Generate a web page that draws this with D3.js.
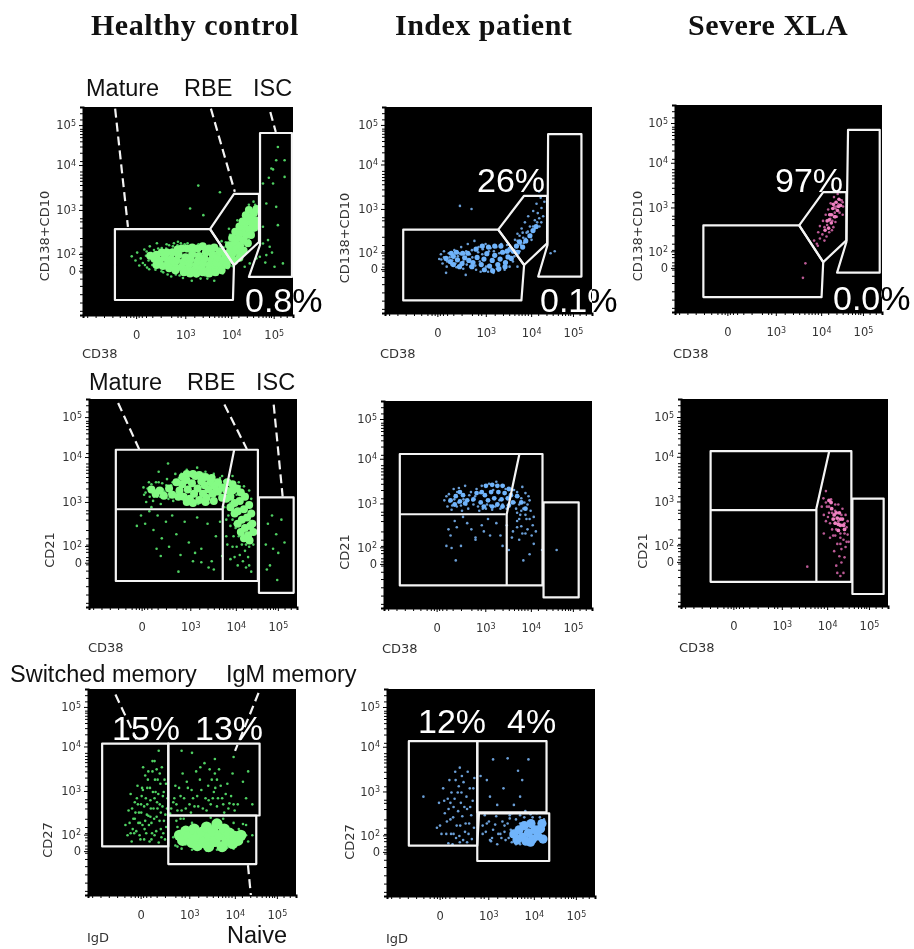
<!DOCTYPE html>
<html lang="en">
<head>
<meta charset="UTF-8">
<title>B cell subsets</title>
<script src="https://d3js.org/d3.v7.min.js"></script>
<style>
  * { margin: 0; padding: 0; }
  body { background: #fff; }
  svg { display: block; filter: blur(0.55px); }
  .tick text { font-family: "DejaVu Sans", sans-serif; font-size: 11.5px; fill: #333; }
  .title { font-family: "Liberation Serif", serif; font-weight: bold; font-size: 30px; letter-spacing: 0.5px; fill: #111; }
  .lab { font-family: "Liberation Sans", sans-serif; font-size: 23.5px; fill: #111; }
  .axt { font-family: "DejaVu Sans", sans-serif; font-size: 13px; fill: #333; }
  .pct { font-family: "Liberation Sans", sans-serif; font-size: 34px; fill: #fff; }
  .over { mix-blend-mode: difference; }
</style>
</head>
<body>
<div id="chart"></div>
<script>
// all values are in display channels (0-1000) of the biexponential axes
const xTickChannels = [253, 487, 706, 908];
const yTickChannels = [213, 293, 505, 721, 913];
const xTickLabels = ["0", "3", "4", "5"];
const yTickLabels = ["0", "2", "3", "4", "5"];
const minorChannels = [20,60,100,140,175,205,225,240,265,280,300,330,370,420,450,465,530,570,600,625,645,660,675,690,740,780,810,835,855,870,885,895,940,970];

// healthy control, CD38 vs CD138+CD10
const coreA = [[340,270],[365,262],[390,275],[405,250],[420,268],[435,240],[445,262],[455,290],[470,232],[478,255],[488,278],[500,222],[505,245],[512,268],[520,292],[530,215],[538,238],[546,258],[552,284],[565,225],[572,248],[578,272],[585,300],[598,218],[604,240],[610,262],[618,290],[630,228],[636,252],[642,275],[650,305],[662,240],[668,262],[676,290],[690,268],[696,300],[706,330],[716,300],[724,345],[732,315],[740,370],[748,335],[756,395],[764,360],[772,420],[778,385],[786,450],[792,410],[800,470],[806,435],[814,490],[820,455],[826,510],[710,270],[750,300]];
const coreA2 = [[400,300],[425,300],[450,315],[470,320],[495,320],[520,325],[545,320],[570,330],[600,320],[625,325],[480,205],[510,200],[540,200],[570,205],[600,200],[630,205],[660,215],[685,240],[720,260],[745,275],[765,310],[785,345],[800,385],[815,420],[825,440],[695,335],[710,370],[725,400],[745,425],[760,450],[775,480],[790,505],[375,300],[350,290],[320,285],[350,240],[380,235],[410,225],[440,215]];
const dotsA = [[232,282],[250,262],[258,300],[268,238],[275,272],[285,250],[292,315],[300,285],[305,228],[312,262],[318,330],[325,298],[330,240],[338,312],[345,218],[352,345],[360,295],[368,232],[375,322],[382,205],[390,305],[398,340],[405,218],[412,295],[420,185],[428,330],[436,205],[444,312],[452,352],[460,190],[468,325],[476,178],[484,340],[492,308],[500,190],[510,330],[518,165],[528,325],[540,185],[550,340],[560,175],[570,325],[582,190],[592,175],[605,332],[615,200],[625,165],[640,195],[655,330],[665,200],[680,350],[690,225],[700,385],[712,235],[720,400],[735,275],[745,430],[760,300],[770,480],[780,340],[790,530],[800,380],[812,545],[660,355],[695,415],[735,455],[549,622],[652,590],[510,512],[573,480],[928,808],[920,744],[897,704],[960,744],[857,632],[905,632],[960,664],[873,536],[920,520],[857,424],[928,432],[881,360],[857,344],[889,328],[842,280],[873,288],[952,248],[912,232],[794,248],[826,272],[770,232],[900,300],[868,252],[905,700],[885,660]];
const extraA = [[295,240],[303,305],[315,220],[322,280],[335,262],[342,295],[350,240],[358,320],[366,270],[374,210],[380,290],[388,235],[396,320],[403,195],[410,335],[418,225],[425,315],[433,345],[442,195],[450,335],[458,215],[466,345],[474,205],[482,325],[490,195],[498,345],[506,205],[516,315],[524,195],[534,320],[544,200],[556,320],[568,200],[576,335],[590,205],[600,325],[610,190],[622,320],[634,205],[646,320],[658,215],[670,325],[682,240],[694,330],[704,255],[716,360],[726,265],[738,395],[750,270],[758,430],[772,320],[780,470],[790,360],[798,510],[812,400],[820,530],[830,460],[826,410]];

// index patient, CD38 vs CD138+CD10
const coreB = [[295,265],[315,250],[330,275],[350,258],[372,240],[385,268],[405,255],[425,245],[445,270],[465,235],[478,262],[492,288],[505,228],[518,255],[530,280],[545,235],[556,262],[568,295],[582,245],[594,272],[604,310],[620,300],[635,325],[650,345]];
const coreB2 = [[440,310],[470,325],[500,320],[530,325],[560,325],[590,300],[480,210],[520,205],[550,215],[580,225],[610,265],[640,295],[665,320],[680,350],[700,375],[715,400],[730,420],[320,290],[345,295],[375,290],[400,290],[330,235],[360,225],[420,225]];
const dotsB = [[262,262],[270,285],[278,240],[285,300],[298,225],[308,290],[320,235],[335,305],[345,222],[358,290],[368,320],[378,215],[392,300],[400,335],[412,225],[420,305],[432,350],[440,210],[452,320],[462,200],[472,310],[486,335],[498,200],[510,315],[524,195],[538,320],[548,205],[562,335],[578,210],[590,330],[602,225],[618,250],[628,355],[640,385],[650,300],[660,410],[668,365],[676,440],[684,390],[692,470],[700,420],[708,355],[716,495],[724,450],[732,530],[738,485],[746,420],[752,560],[756,510],[764,470],[770,540],[744,590],[362,520],[418,505],[640,225],[295,195],[390,185],[820,300],[800,290]];
const extraB = [[272,260],[285,270],[300,250],[312,270],[325,255],[340,240],[352,275],[365,285],[378,250],[395,235],[410,285],[422,270],[436,230],[450,295],[458,250],[470,285],[488,225],[502,300],[515,215],[526,300],[540,215],[552,290],[575,225],[588,300],[610,270],[625,275],[640,300],[655,330],[670,340],[680,360],[690,395],[705,380],[715,420],[725,410],[735,440],[745,460],[755,440],[650,375],[665,390],[640,350]];

// severe XLA, CD38 vs CD138+CD10
const coreC = [[735,440],[748,470],[755,430],[762,500],[770,460],[778,530],[785,490],[792,545],[800,515],[742,405],[725,395],[755,470],[765,520],[790,510],[745,445],[775,460]];
const dotsC = [[672,345],[685,330],[692,385],[700,355],[700,415],[712,375],[715,440],[722,345],[728,470],[732,365],[740,495],[745,385],[752,525],[758,395],[765,410],[768,555],[775,435],[782,460],[786,570],[795,480],[800,580],[805,540],[812,510],[810,470],[770,510],[690,320],[630,235],[618,165]];
const extraC = [[722,410],[735,420],[750,450],[760,470],[772,480],[780,510],[790,520],[800,540],[810,530],[745,470],[760,440],[775,500]];

// healthy control, CD38 vs CD21
const coreD = [[435,560],[448,590],[455,530],[468,610],[475,565],[485,520],[495,595],[505,545],[512,630],[522,570],[530,515],[540,605],[548,545],[556,585],[565,525],[575,565],[585,600],[595,545],[605,580],[620,555],[640,575],[660,560],[680,530],[700,500],[690,560],[715,460],[725,510],[735,420],[745,470],[750,380],[760,430],[765,345],[775,390],[772,320]];
const coreD2 = [[420,600],[430,530],[450,625],[470,640],[500,640],[530,635],[560,625],[590,620],[620,600],[470,505],[500,500],[560,505],[600,510],[640,525],[665,600],[690,590],[710,570],[730,550],[750,530],[770,490],[780,450],[785,400],[790,360],[700,450],[715,400],[730,360],[745,330],[680,480],[660,520],[340,560],[320,545],[300,565],[360,535],[385,570],[400,540]];
const dotsD = [[265,540],[275,505],[282,570],[292,530],[300,590],[308,510],[318,560],[328,530],[335,600],[345,495],[355,565],[365,525],[375,615],[385,545],[395,585],[405,510],[415,640],[425,600],[470,660],[520,670],[560,650],[600,640],[640,630],[670,610],[690,630],[720,600],[745,580],[770,560],[780,520],[650,480],[670,440],[690,420],[705,380],[720,340],[735,300],[750,270],[765,240],[790,300],[785,460],[660,340],[690,290],[680,230],[640,245],[715,200],[755,190],[780,170],[230,390],[250,440],[270,400],[290,460],[310,370],[330,440],[350,330],[370,410],[385,290],[400,440],[420,350],[440,250],[460,410],[480,310],[500,220],[520,430],[540,280],[570,400],[590,220],[610,340],[345,245],[325,280],[430,170],[510,260],[540,215],[575,190],[630,410],[600,180],[860,400],[880,440],[900,350],[925,420],[850,300],[885,280],[910,260],[940,310],[870,200],[905,130],[855,180],[335,650],[380,690],[300,480]];
const extraD = [[262,575],[272,550],[288,600],[298,555],[312,530],[322,600],[332,570],[342,530],[352,595],[362,555],[372,585],[382,520],[392,565],[402,600],[412,545],[422,520],[432,620],[445,640],[460,500],[480,640],[500,650],[525,495],[550,640],[575,500],[600,625],[630,620],[650,605],[665,590],[675,570],[700,580],[710,540],[720,560],[690,470],[705,440],[715,520],[730,470],[700,400],[720,400],[740,380],[745,330],[730,350],[755,300],[770,290],[780,350],[760,480],[750,520],[740,550],[725,580],[680,500],[670,470],[655,510],[660,420],[680,390],[695,340],[665,300],[710,290],[700,240],[725,250],[740,220],[770,200]];

// index patient, CD38 vs CD21
const coreE = [[345,540],[365,515],[380,545],[400,520],[465,510],[485,545],[500,520],[515,560],[530,530],[545,500],[550,560],[565,525],[580,555],[595,530],[610,545],[620,510]];
const coreE2 = [[470,560],[490,590],[520,595],[545,590],[570,590],[600,575],[480,490],[520,490],[570,490],[600,495],[640,540],[660,510],[680,480],[430,525],[445,555],[320,520],[340,500],[365,560],[390,505]];
const dotsE = [[290,520],[305,490],[312,550],[325,475],[335,575],[350,490],[360,580],[375,470],[390,590],[405,480],[418,560],[430,500],[445,575],[458,470],[470,590],[490,480],[505,600],[520,475],[540,610],[560,480],[575,590],[590,480],[605,500],[625,570],[635,480],[645,540],[655,450],[665,585],[675,510],[685,430],[695,540],[705,470],[715,400],[660,395],[640,420],[615,340],[650,330],[680,360],[720,310],[600,280],[570,300],[540,410],[510,350],[470,400],[440,330],[400,410],[370,300],[340,420],[310,380],[300,300],[325,290],[345,230],[440,340],[700,260],[670,230],[760,280],[830,280]];
const extraE = [[300,540],[315,515],[328,495],[338,525],[352,560],[358,510],[370,495],[382,525],[395,500],[410,545],[425,520],[438,540],[452,490],[462,555],[475,480],[495,500],[510,495],[525,570],[535,490],[555,520],[570,500],[585,575],[600,500],[615,570],[628,510],[640,560],[650,500],[660,530],[670,480],[680,555],[690,500],[700,520],[650,430],[680,450],[700,430],[720,440],[660,470],[640,460],[690,380],[665,360],[640,390],[620,370],[710,350],[730,370],[380,440],[420,380],[350,390],[320,350],[480,370],[500,430],[560,350],[590,400]];

// severe XLA, CD38 vs CD21
const coreF = [[715,510],[728,470],[740,440],[755,425],[765,450],[745,400],[770,390],[780,420],[760,365],[790,370],[725,500],[735,420],[750,450],[770,420],[785,390],[760,395]];
const dotsF = [[700,555],[688,520],[705,480],[680,480],[690,440],[715,450],[700,410],[725,515],[745,490],[760,490],[780,470],[795,440],[805,410],[730,370],[745,340],[770,330],[785,320],[805,345],[720,330],[690,350],[755,300],[775,275],[795,285],[740,265],[765,240],[790,235],[750,195],[775,210],[755,160],[785,160],[770,145],[800,380],[810,310],[610,190]];
const extraF = [[700,500],[715,480],[730,450],[745,460],[760,410],[775,440],[790,400],[720,400],[740,420],[710,430],[790,350],[770,350],[750,370],[735,340],[770,300],[800,310]];

// healthy control, IgD vs CD27
const coreG = [[440,290],[455,265],[470,310],[485,285],[500,255],[510,320],[525,240],[530,285],[550,305],[555,255],[570,330],[580,235],[585,285],[600,310],[610,260],[620,345],[635,290],[645,235],[655,320],[670,265],[680,300],[695,250],[705,285],[720,265],[735,290]];
const dotsG = [[180,340],[190,290],[195,410],[205,490],[210,260],[218,370],[225,450],[232,310],[238,530],[245,400],[252,270],[258,480],[262,340],[270,430],[275,580],[280,300],[285,520],[290,385],[296,260],[300,460],[305,350],[310,600],[315,420],[320,290],[325,500],[330,380],[335,560],[340,255],[345,440],[350,320],[355,620],[360,480],[365,360],[370,270],[375,540],[380,420],[265,620],[320,650],[255,440],[275,360],[298,520],[332,450],[350,400],[362,300],[368,560],[305,270],[215,320],[250,350],[228,400],[285,440],[340,700],[395,395],[410,450],[420,530],[430,410],[445,480],[455,590],[470,420],[480,520],[495,400],[505,470],[520,600],[530,430],[545,510],[560,640],[570,410],[580,460],[595,560],[605,500],[620,430],[630,610],[645,470],[655,400],[670,540],[680,445],[695,590],[705,410],[720,440],[745,550],[760,470],[790,440],[770,600],[700,670],[500,690],[610,660],[450,700],[500,350],[425,360],[410,280],[760,340],[790,290],[770,260],[745,345],[470,245],[540,225],[640,215],[700,225],[460,370],[650,370],[590,375]];
const extraG = [[200,350],[212,420],[222,300],[235,470],[242,350],[248,290],[256,400],[264,510],[272,320],[278,470],[283,390],[288,560],[293,340],[302,420],[308,300],[312,500],[318,370],[322,560],[328,310],[334,420],[338,490],[344,360],[348,540],[353,280],[358,430],[364,500],[372,390],[376,330],[382,470],[240,440],[260,520],[290,600],[310,650],[330,610],[270,270],[300,380],[320,470],[345,590],[225,370],[205,300],[400,420],[415,470],[425,440],[438,520],[450,410],[462,470],[475,550],[488,440],[498,510],[512,430],[525,480],[538,560],[552,420],[565,470],[578,530],[590,440],[600,470],[612,520],[625,470],[638,530],[650,440],[662,490],[675,420],[688,480],[700,440],[585,610],[540,620],[620,560],[610,590],[430,330],[445,370],[700,350],[725,320],[745,295],[420,240],[430,235],[760,290],[450,225],[500,220],[570,215],[620,220],[670,230]];

// index patient, IgD vs CD27
const coreH = [[610,300],[625,270],[635,320],[650,285],[660,340],[668,265],[680,305],[692,350],[700,275],[712,320],[725,290],[738,325],[750,275],[745,350],[690,260]];
const dotsH = [[250,450],[255,340],[270,520],[278,400],[285,300],[292,470],[300,560],[305,370],[315,250],[320,430],[328,600],[335,340],[340,500],[348,290],[355,450],[362,385],[368,550],[375,310],[382,480],[388,600],[395,350],[400,430],[408,275],[415,520],[420,570],[350,620],[310,500],[385,260],[240,330],[175,480],[295,255],[460,300],[480,350],[495,270],[510,320],[525,385],[545,300],[565,340],[585,280],[590,375],[500,265],[530,250],[555,360],[470,390],[450,580],[480,560],[560,520],[610,440],[640,480],[640,390],[665,410],[690,395],[510,660],[580,665],[680,660],[630,605],[650,560],[495,480],[530,440],[720,400]];
const extraH = [[262,300],[275,460],[288,360],[296,420],[308,300],[318,380],[325,470],[332,280],[342,410],[352,340],[358,500],[366,270],[372,430],[378,350],[392,300],[398,520],[405,390],[412,460],[418,330],[345,530],[330,560],[305,450],[360,580],[385,420],[320,300],[350,260],[460,340],[475,310],[490,360],[505,280],[520,345],[535,300],[550,280],[565,310],[580,350],[595,320],[600,260],[595,290],[570,270],[620,250],[640,250],[660,380],[700,380],[735,380],[755,370],[600,400],[620,370],[640,350],[590,390]];

// gates: polygons in channels
const gatesA = [[[152,413],[605,413],[719,240],[714,72],[152,72]], [[605,413],[719,582],[838,582],[838,351],[719,240]], [[843,875],[995,875],[995,183],[790,183],[843,337]]];
const gatesB = [[[88,405],[547,405],[672,233],[659,61],[88,61]], [[547,405],[672,569],[783,569],[783,338],[672,233]], [[788,868],[949,868],[949,177],[740,177],[785,330]]];
const gatesC = [[[137,418],[600,418],[716,241],[708,72],[137,72]], [[600,418],[716,579],[828,579],[828,346],[716,241]], [[836,880],[989,880],[989,190],[783,190],[828,338]]];
const gatesD = [[[129,756],[812,756],[812,125],[129,125]], [[129,470],[646,470]], [[643,125],[643,482],[698,756]], [[817,527],[984,527],[984,68],[817,68]]];
const gatesE = [[[76,744],[762,744],[762,109],[76,109]], [[76,453],[585,453]], [[590,109],[590,453],[651,744]], [[767,510],[936,510],[936,51],[767,51]]];
const gatesF = [[[143,748],[823,748],[823,117],[143,117]], [[143,463],[654,463]], [[654,117],[654,471],[716,748]], [[828,519],[979,519],[979,58],[828,58]]];
const gatesG = [[[68,735],[386,735],[386,236],[68,236]], [[386,735],[825,735],[825,386],[386,386]], [[386,386],[809,386],[809,150],[386,150]]];
const gatesH = [[[105,748],[434,748],[434,243],[105,243]], [[434,748],[767,748],[767,404],[434,404]], [[442,399],[780,399],[780,169],[434,169],[434,243]]];

// dashed pointers from the population names
const leadersA = [[[153,992],[214,424]], [[609,992],[723,592]], [[892,976],[918,880]]];
const leadersD = [[[140,981],[241,759]], [[651,973],[759,759]], [[888,973],[931,531]]];
const leadersG = [[[132,973],[233,756]], [[820,981],[707,700]], [[769,145],[783,0]]];

const titles = ["Healthy control", "Index patient", "Severe XLA"];
const green = { core: "#84fb84", dot: "#4fd062" };
const blue = { core: "#70b4fb", dot: "#6a9ed6" };
const pink = { core: "#f082c2", dot: "#bb5a95" };

const panels = [
  { l: 83, t: 107, w: 210, h: 208, core: coreA.concat(coreA2), dots: dotsA.concat(extraA), r: 4, col: green, gates: gatesA, leaders: leadersA, yName: "CD138+CD10", xName: "CD38", xn: [82, 358], yn: [49, 236] },
  { l: 385, t: 107, w: 207, h: 206, core: coreB.concat(coreB2), dots: dotsB.concat(extraB), r: 2.6, col: blue, gates: gatesB, leaders: [], yName: "CD138+CD10", xName: "CD38", xn: [380, 358], yn: [349, 238] },
  { l: 675, t: 105, w: 207, h: 207, core: coreC, dots: dotsC.concat(extraC), r: 1.8, col: pink, gates: gatesC, leaders: [], yName: "CD138+CD10", xName: "CD38", xn: [673, 358], yn: [642, 236] },
  { l: 89, t: 399, w: 208, h: 208, core: coreD.concat(coreD2), dots: dotsD.concat(extraD), r: 4, col: green, gates: gatesD, leaders: leadersD, yName: "CD21", xName: "CD38", xn: [88, 652], yn: [54, 550] },
  { l: 384, t: 401, w: 208, h: 207, core: coreE.concat(coreE2), dots: dotsE.concat(extraE), r: 2.4, col: blue, gates: gatesE, leaders: [], yName: "CD21", xName: "CD38", xn: [382, 653], yn: [349, 552] },
  { l: 681, t: 399, w: 207, h: 207, core: coreF, dots: dotsF.concat(extraF), r: 1.9, col: pink, gates: gatesF, leaders: [], yName: "CD21", xName: "CD38", xn: [679, 652], yn: [647, 551] },
  { l: 88, t: 689, w: 208, h: 206, core: coreG, dots: dotsG.concat(extraG), r: 5.6, col: green, gates: gatesG, leaders: leadersG, yName: "CD27", xName: "IgD", xn: [87, 942], yn: [52, 840] },
  { l: 387, t: 689, w: 208, h: 207, core: coreH, dots: dotsH.concat(extraH), r: 4.6, col: blue, gates: gatesH, leaders: [], yName: "CD27", xName: "IgD", xn: [386, 943], yn: [354, 842] }
];

const popLabels = [
  ["Mature", 86, 96], ["RBE", 184, 96], ["ISC", 253, 96],
  ["Mature", 89, 390], ["RBE", 187, 390], ["ISC", 256, 390],
  ["Switched memory", 10, 682], ["IgM memory", 226, 682], ["Naive", 227, 943]
];
const pctLabels = [
  ["0.8%", 245, 312, true], ["26%", 477, 192, false], ["0.1%", 540, 312, true],
  ["97%", 775, 192, false], ["0.0%", 833, 310, true],
  ["15%", 112, 740, false], ["13%", 195, 740, false], ["12%", 418, 733, false], ["4%", 507, 733, false]
];

const svg = d3.select("#chart").append("svg").attr("width", 914).attr("height", 949);
svg.append("rect").attr("width", 914).attr("height", 949).attr("fill", "#fff");

titles.forEach((t, i) => {
  svg.append("text").attr("class", "title").attr("x", [91, 395, 688][i]).attr("y", 35).text(t);
});

const line = d3.line();

panels.forEach(p => {
  const x = d3.scaleLinear().domain([0, 1000]).range([p.l, p.l + p.w]);
  const y = d3.scaleLinear().domain([0, 1000]).range([p.t + p.h, p.t]);
  const g = svg.append("g");

  g.append("rect").attr("x", p.l).attr("y", p.t).attr("width", p.w).attr("height", p.h).attr("fill", "#000");

  // minor ticks
  g.append("g").attr("transform", `translate(0,${p.t + p.h})`)
    .call(d3.axisBottom(x).tickValues(minorChannels).tickSize(3).tickFormat(""))
    .call(a => a.select(".domain").attr("stroke-width", 2));
  g.append("g").attr("transform", `translate(${p.l},0)`)
    .call(d3.axisLeft(y).tickValues(minorChannels).tickSize(3).tickFormat(""))
    .call(a => a.select(".domain").attr("stroke-width", 2));

  // major ticks
  const xAxis = g.append("g").attr("transform", `translate(0,${p.t + p.h})`)
    .call(d3.axisBottom(x).tickValues(xTickChannels).tickSize(4).tickPadding(12).tickFormat((d, i) => xTickLabels[i]));
  const yAxis = g.append("g").attr("transform", `translate(${p.l},0)`)
    .call(d3.axisLeft(y).tickValues(yTickChannels).tickSize(4).tickPadding(3).tickFormat((d, i) => yTickLabels[i]));
  [xAxis, yAxis].forEach(a => {
    a.select(".domain").remove();
    a.selectAll(".tick text").each(function () {
      const el = d3.select(this), s = el.text();
      if (s === "0") return;
      el.text("10").append("tspan").attr("dy", "-0.45em").attr("font-size", "8px").text(s);
    });
  });

  g.selectAll(".dot").data(p.dots).join("circle").attr("class", "dot")
    .attr("cx", d => x(d[0])).attr("cy", d => y(d[1])).attr("r", 1.3).attr("fill", p.col.dot);
  g.selectAll(".core").data(p.core).join("circle").attr("class", "core")
    .attr("cx", d => x(d[0])).attr("cy", d => y(d[1])).attr("r", p.r).attr("fill", p.col.core);

  p.gates.forEach((gate, i) => {
    const closed = gate.length > 2 && !(p.yName !== "CD27" && p.gates.length === 4 && i === 2);
    const pts = gate.map(d => [x(d[0]), y(d[1])]);
    g.append("path").attr("d", line(pts) + (closed ? "Z" : ""))
      .attr("fill", "none").attr("stroke", "#f4f4f4").attr("stroke-width", 2.2).attr("stroke-linejoin", "round");
  });
  p.leaders.forEach(l => {
    g.append("path").attr("d", line(l.map(d => [x(d[0]), y(d[1])])))
      .attr("fill", "none").attr("stroke", "#f4f4f4").attr("stroke-width", 2.2).attr("stroke-dasharray", "9 5");
  });

  g.append("text").attr("class", "axt").attr("x", p.xn[0]).attr("y", p.xn[1]).text(p.xName);
  g.append("text").attr("class", "axt").attr("text-anchor", "middle")
    .attr("transform", `translate(${p.yn[0]},${p.yn[1]}) rotate(-90)`).text(p.yName);
});

popLabels.forEach(d => {
  svg.append("text").attr("class", "lab").attr("x", d[1]).attr("y", d[2]).text(d[0]);
});
pctLabels.forEach(d => {
  svg.append("text").attr("class", d[3] ? "pct over" : "pct").attr("x", d[1]).attr("y", d[2]).text(d[0]);
});
</script>
</body>
</html>
